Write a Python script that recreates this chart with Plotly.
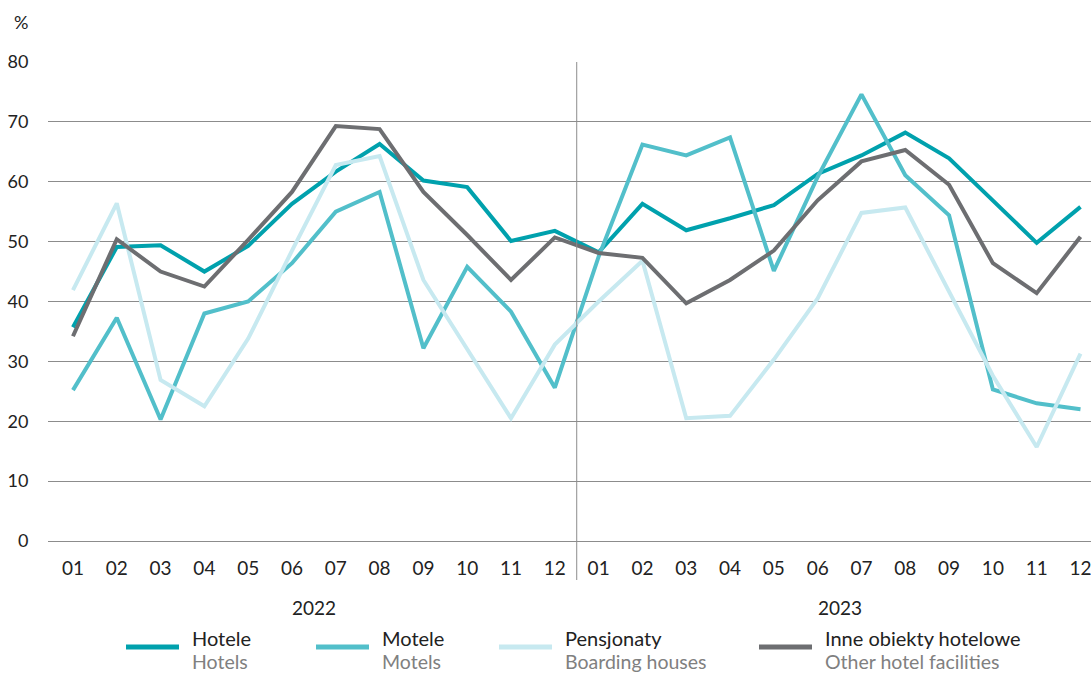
import plotly.graph_objects as go

# ---- data ----
months = ["01", "02", "03", "04", "05", "06", "07", "08", "09", "10", "11", "12",
          "01", "02", "03", "04", "05", "06", "07", "08", "09", "10", "11", "12"]
years = ["2022", "2023"]
y_ticks = [0, 10, 20, 30, 40, 50, 60, 70, 80]

hotele = [35.7, 49.1, 49.4, 45.0, 49.3, 56.3, 61.7, 66.3, 60.2, 59.1, 50.1, 51.8,
          48.2, 56.3, 51.9, 53.9, 56.1, 61.3, 64.4, 68.2, 63.9, 56.8, 49.8, 55.8]
motele = [25.2, 37.3, 20.3, 38.0, 40.0, 46.4, 55.0, 58.3, 32.2, 45.8, 38.3, 25.6,
          47.5, 66.2, 64.4, 67.4, 45.1, 60.8, 74.6, 61.1, 54.4, 25.3, 23.0, 22.0]
pensjonaty = [41.9, 56.4, 26.9, 22.5, 33.8, 48.5, 62.8, 64.3, 43.6, 32.0, 20.5, 32.8,
              40.0, 46.8, 20.5, 20.9, 30.3, 40.5, 54.8, 55.7, 41.5, 27.6, 15.7, 31.3]
inne = [34.2, 50.4, 45.0, 42.5, 50.3, 58.3, 69.3, 68.8, 58.3, 51.1, 43.6, 50.7,
        48.1, 47.3, 39.7, 43.6, 48.5, 56.9, 63.4, 65.3, 59.5, 46.4, 41.4, 50.8]

names_pl = ["Hotele", "Motele", "Pensjonaty", "Inne obiekty hotelowe"]
names_en = ["Hotels", "Motels", "Boarding houses", "Other hotel facilities"]
colors = ["#00a1ad", "#52bfca", "#c7e9f0", "#6d6e71"]
series = [hotele, motele, pensjonaty, inne]

FONT = "Lato"
W, H = 1091, 674
L, R, T, B = 48, 0, 62, 133

def px_x(p):
    return (p - L) / (W - L - R)

def px_y(p):
    return (H - B - p) / (H - B - T)

x = list(range(len(months)))

fig = go.Figure()
for s, c, n in zip(series, colors, names_pl):
    fig.add_trace(go.Scatter(x=x, y=s, mode="lines", name=n,
                             line=dict(color=c, width=4), showlegend=False))

shapes = [
    dict(type="line", xref="x", yref="paper", x0=11.5, x1=11.5, y0=1, y1=px_y(580),
         line=dict(color="#8c8c8c", width=1)),
]
annotations = [
    dict(text="%", xref="paper", yref="paper", x=px_x(21), y=px_y(22), showarrow=False,
         font=dict(size=18, color="#222", family=FONT), xanchor="center", yanchor="middle"),
    dict(text=years[0], xref="x", yref="paper", x=5.5, y=px_y(607), showarrow=False,
         font=dict(size=19, color="#222", family=FONT), xanchor="center", yanchor="middle"),
    dict(text=years[1], xref="x", yref="paper", x=17.5, y=px_y(607), showarrow=False,
         font=dict(size=19, color="#222", family=FONT), xanchor="center", yanchor="middle"),
]

leg_line_x = [126, 316, 499, 759]
for lx, c, npl, nen in zip(leg_line_x, colors, names_pl, names_en):
    shapes.append(dict(type="line", xref="paper", yref="paper",
                       x0=px_x(lx), x1=px_x(lx + 53), y0=px_y(647), y1=px_y(647),
                       line=dict(color=c, width=5)))
    annotations.append(dict(text=npl, xref="paper", yref="paper", x=px_x(lx + 64), y=px_y(638),
                            showarrow=False, xanchor="left", yanchor="middle",
                            font=dict(size=20, color="#222", family=FONT)))
    annotations.append(dict(text=nen, xref="paper", yref="paper", x=px_x(lx + 64), y=px_y(661),
                            showarrow=False, xanchor="left", yanchor="middle",
                            font=dict(size=19.5, color="#808080", family=FONT)))

fig.update_layout(
    width=W, height=H,
    margin=dict(l=L, r=R, t=T, b=B, pad=0),
    paper_bgcolor="white", plot_bgcolor="white",
    font=dict(family=FONT, size=18, color="#222"),
    shapes=shapes, annotations=annotations,
    xaxis=dict(range=[-0.57, 23.24], tickmode="array", tickvals=x, ticktext=months,
               showgrid=False, zeroline=False, showline=False,
               ticks="outside", ticklen=10, tickcolor="rgba(0,0,0,0)",
               ticklabeloverflow="allow",
               tickfont=dict(size=19, color="#222", family=FONT)),
    yaxis=dict(range=[0, 80], tickmode="array", tickvals=y_ticks,
               showgrid=True, gridcolor="#8c8c8c", gridwidth=1,
               zeroline=True, zerolinecolor="#8c8c8c", zerolinewidth=1, showline=False,
               ticks="outside", ticklen=15, tickcolor="rgba(0,0,0,0)",
               tickfont=dict(size=18, color="#222", family=FONT)),
)

fig.write_html("out.html", config={"displayModeBar": False},
               post_script="document.body.style.margin='0';")
